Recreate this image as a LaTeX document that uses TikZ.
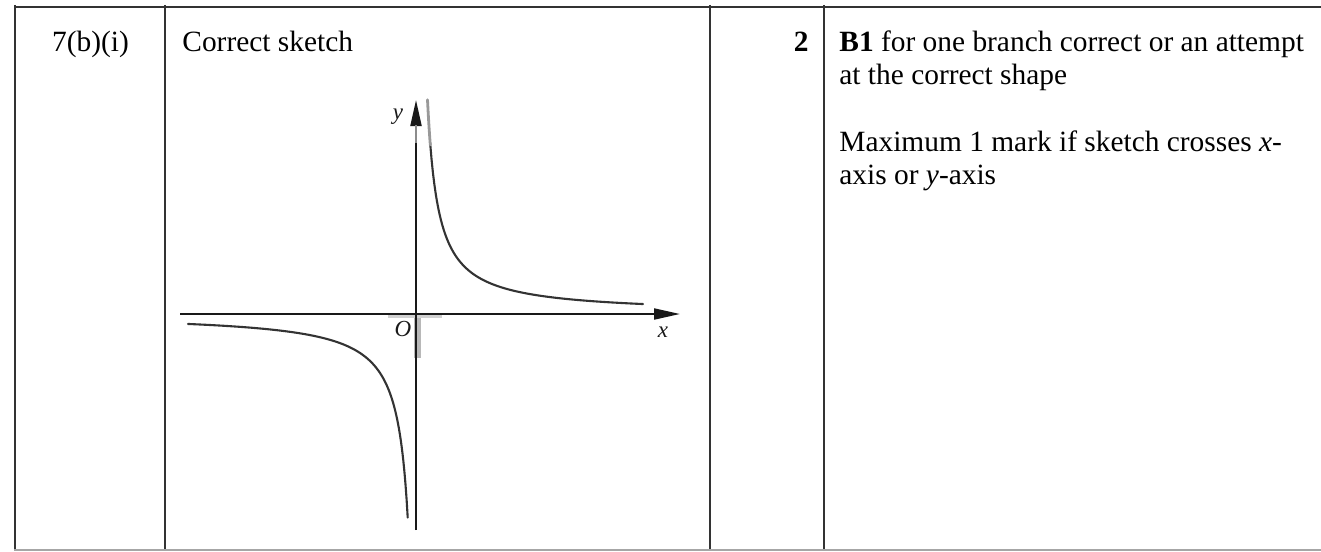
\documentclass[tikz,border=0pt]{standalone}
\usepackage{fontspec}
\setmainfont{Liberation Serif}
\usetikzlibrary{arrows.meta}
\begin{document}
\begin{tikzpicture}[x=0.5pt,y=-0.5pt,
  rule/.style={line width=1pt, draw=black!80},
  lightrule/.style={line width=0.6pt, draw=black!35},
  txt/.style={inner sep=0pt, font=\fontsize{14.7}{17}\selectfont, text=black},
  lbl/.style={inner sep=0pt, font=\fontsize{11.5}{13}\selectfont\itshape, text=black!90},
  axis/.style={line width=1pt, draw=black!90, -{Triangle[length=13pt,width=5.5pt]}},
  curve/.style={line width=1.05pt, draw=black!80, line cap=round},
  smudge/.style={draw=black!30}]
\useasboundingbox (0,0) rectangle (1321,551);
% table rules
\draw[rule] (14,7) -- (1321,7);
\draw[rule] (14.5,5) -- (14.5,550);
\draw[rule] (164.7,5) -- (164.7,550);
\draw[rule] (709.5,5) -- (709.5,550);
\draw[rule] (824.3,5) -- (824.3,550);
\draw[lightrule] (14,550) -- (1321,550);
% texts
\node[txt, anchor=base] (q) at (90.5,51.5) {7(b)(i)};
\node[txt, anchor=base west] (ans) at (182,51.5) {Correct sketch};
\node[txt, anchor=base east] (mk) at (809,51.5) {\textbf{2}};
\node[txt, anchor=base west] (g1) at (839,51.7) {\textbf{B1} for one branch correct or an attempt};
\node[txt, anchor=base west] (g2) at (839,84.5) {at the correct shape};
\node[txt, anchor=base west] (g3) at (839,151.7) {Maximum 1 mark if sketch crosses \textit{x}-};
\node[txt, anchor=base west] (g4) at (839,184.5) {axis or \textit{y}-axis};
% graph
\coordinate (O) at (416,314);
\coordinate (xl) at (180,314);
\coordinate (xr) at (680,314);
\coordinate (yb) at (416,530);
\coordinate (yt) at (416,100);
\draw[smudge, line width=3.5pt, draw=black!28] (417,314) -- (417,358);
\draw[smudge, line width=2pt, draw=black!18] (388,315.5) -- (442,315.5);
\draw[axis] (xl) -- (xr);
\draw[axis] (yb) -- (yt);
\draw[line width=1.3pt, draw=black!45] (416,125) -- (416,143);
\draw[curve] plot[domain=430.2:643, samples=160] (\x, {314 - 2250/(\x-417)});
\draw[curve, draw=black!40, line width=1.4pt] plot[domain=427.5:430.3, samples=20] (\x, {314 - 2250/(\x-417)});
\draw[curve] plot[domain=188:407.7, samples=200] (\x, {314 + 2300/(419-\x)});
\node[lbl] (ylab) at (398,117) {y};
\node[lbl] (xlab) at (663,332) {x};
\node[lbl] (olab) at (403,329) {O};
\end{tikzpicture}
\end{document}
